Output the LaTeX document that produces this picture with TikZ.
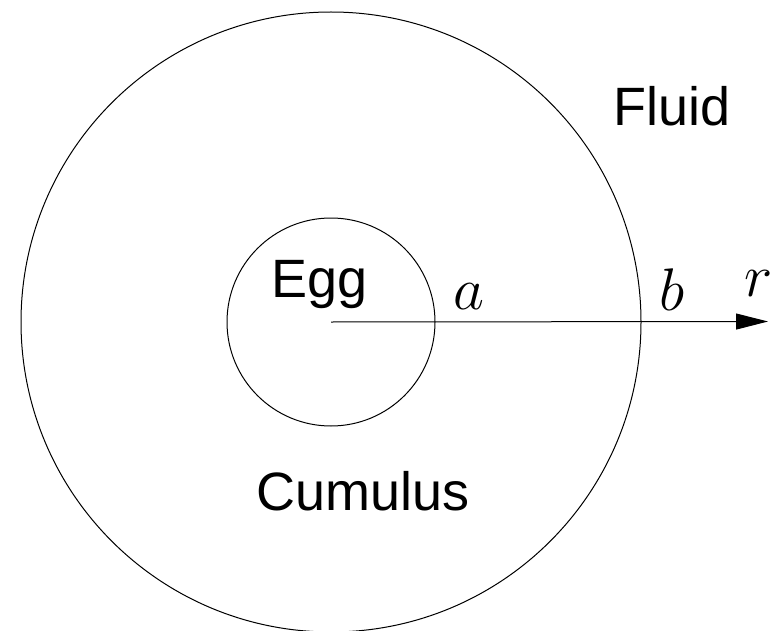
\documentclass[tikz,border=0pt]{standalone}
\usepackage{fix-cm}
\usepackage{fontspec}
\setsansfont{Liberation Sans}
\usetikzlibrary{arrows.meta}

\begin{document}
\begin{tikzpicture}[x=0.5pt,y=-0.5pt,
    region/.style={font=\sffamily\fontsize{27}{32}\selectfont, anchor=base, inner sep=0pt},
    radiuslabel/.style={font=\fontsize{20.74}{25}\selectfont, scale=1.45, transform shape, anchor=base, inner sep=0pt},
    thinline/.style={line width=0.5pt}]
  \useasboundingbox (0,0) rectangle (776,631);
  % centre of both circles and end of the r axis
  \coordinate (o) at (331,322);
  \coordinate (rEnd) at (768,321.5);
  \draw[thinline] (o) circle[radius=155pt];
  \draw[thinline] (o) circle[radius=52pt];
  \draw[thinline, -{Triangle[length=16pt,width=8pt]}] (o) -- (rEnd);
  % region names
  \node[region] (egg) at (319.5,297) {Egg};
  \node[region] (fluid) at (672,126) {Fluid};
  \node[region] (cumulus) at (363,510) {Cumulus};
  % radii
  \node[radiuslabel] (aLabel) at (469,309) {$a$};
  \node[radiuslabel] (bLabel) at (672,310) {$b$};
  \node[radiuslabel] (rLabel) at (759,296) {$r$};
\end{tikzpicture}
\end{document}
